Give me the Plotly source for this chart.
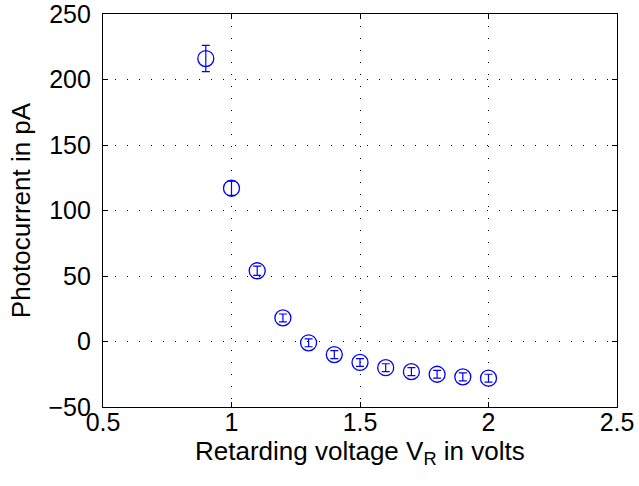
import plotly.graph_objects as go

voltage = [0.9, 1.0, 1.1, 1.2, 1.3, 1.4, 1.5, 1.6, 1.7, 1.8, 1.9, 2.0]
current = [216, 117, 54, 18, -1, -10, -16, -20, -23, -25, -27, -28]
error = [10, 5.5, 3.5, 3, 3, 3, 3, 3, 3, 3, 3, 3]

x_ticks = [0.5, 1, 1.5, 2, 2.5]
y_ticks = [-50, 0, 50, 100, 150, 200, 250]

x_title = "Retarding voltage V<sub>R</sub> in volts"
y_title = "Photocurrent in pA"

blue = "#0000ff"
tick_font = dict(family="Liberation Sans, Arial, sans-serif", size=25, color="black")
title_font = dict(family="Liberation Sans, Arial, sans-serif", size=26, color="black")

fig = go.Figure()
fig.add_trace(go.Scatter(
    x=voltage, y=current, mode="markers",
    marker=dict(symbol="circle-open", size=16, color=blue, line=dict(width=1.3, color=blue)),
    error_y=dict(type="data", array=error, visible=True, color=blue, thickness=1.2, width=4),
    showlegend=False,
))

axis_common = dict(
    showline=True, linecolor="black", linewidth=1.2, mirror="ticks",
    ticks="inside", ticklen=5, tickcolor="black",
    showgrid=True, gridcolor="black", griddash="1px,11px", gridwidth=1,
    zeroline=False, tickfont=tick_font, automargin=False,
    ticklabeloverflow="allow",
)

fig.update_xaxes(range=[0.5, 2.5], tickvals=x_ticks, ticktext=[str(v) for v in x_ticks],
                 ticklabelstandoff=-7,
                 **axis_common)
fig.update_yaxes(range=[-50, 250], tickvals=y_ticks, ticktext=["\u221250" if v < 0 else str(v) for v in y_ticks],
                 ticklabelstandoff=6,
                 title=dict(text=y_title, font=title_font, standoff=10),
                 **axis_common)

fig.add_annotation(
    text=x_title, font=title_font, showarrow=False, borderpad=0,
    xref="paper", yref="paper", x=0.5, y=0, xanchor="center", yanchor="top",
    yshift=-28,
)

fig.update_layout(
    width=639, height=486,
    margin=dict(l=103, r=22, t=14, b=79, pad=0),
    plot_bgcolor="white", paper_bgcolor="white",
    font=tick_font,
)

fig.write_html(
    "out.html",
    config={"displayModeBar": False},
    post_script="document.body.style.margin='0';document.body.style.overflow='hidden';",
)
